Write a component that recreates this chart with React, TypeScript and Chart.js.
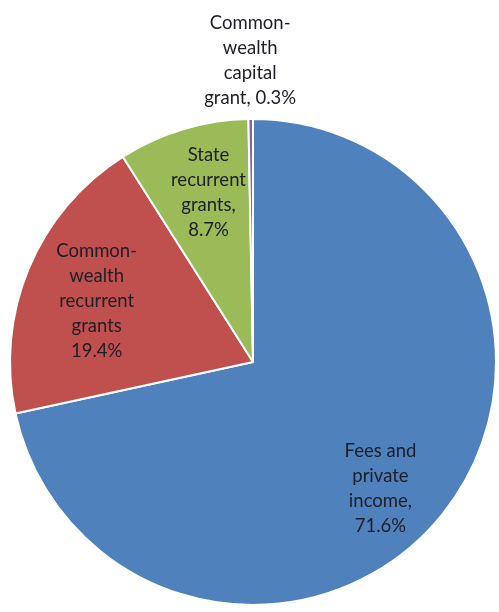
import React, { useEffect, useRef } from "react";
import { Chart, registerables } from "chart.js";

Chart.register(...registerables);

const categories = [
  "Fees and private income",
  "Commonwealth recurrent grants",
  "State recurrent grants",
  "Commonwealth capital grant",
];
const shares = [71.6, 19.4, 8.7, 0.3];
const labelLines = [
  ["Fees and", "private", "income,", "71.6%"],
  ["Common-", "wealth", "recurrent", "grants", "19.4%"],
  ["State", "recurrent", "grants,", "8.7%"],
  ["Common-", "wealth", "capital", "grant, 0.3%"],
];
const colors = ["#4F81BD", "#C0504D", "#9BBB59", "#8064A2"];
const labelRadius = [0.74, 0.69, 0.72, 1.24];
const labelAngleShift = [6, -1.5, 2, 0];

const labelPlugin = {
  id: "sliceLabels",
  afterDatasetsDraw(chart: any) {
    const ctx = chart.ctx;
    const meta = chart.getDatasetMeta(0);
    ctx.save();
    ctx.font = "18.5px Lato";
    ctx.fillStyle = "#1e1e28";
    ctx.textAlign = "center";
    ctx.textBaseline = "middle";
    const lh = 25;
    meta.data.forEach((arc: any, i: number) => {
      const p = arc.getProps(["x", "y", "startAngle", "endAngle", "outerRadius"], true);
      const mid = (p.startAngle + p.endAngle) / 2 + (labelAngleShift[i] * Math.PI) / 180;
      const r = p.outerRadius * labelRadius[i];
      const cx = p.x + Math.cos(mid) * r;
      const cy = p.y + Math.sin(mid) * r;
      const lines = labelLines[i];
      const y0 = cy - ((lines.length - 1) * lh) / 2;
      lines.forEach((t, j) => ctx.fillText(t, cx, y0 + j * lh));
    });
    ctx.restore();
  },
};

export default function App() {
  const ref = useRef<HTMLCanvasElement>(null);
  useEffect(() => {
    if (!ref.current) return;
    const chart = new Chart(ref.current, {
      type: "pie",
      data: {
        labels: categories,
        datasets: [
          {
            data: shares,
            backgroundColor: colors,
            borderColor: "#ffffff",
            borderWidth: 2,
          },
        ],
      },
      options: {
        responsive: false,
        animation: false,
        layout: { padding: { left: 9, right: 2, top: 118, bottom: 6 } },
        plugins: { legend: { display: false }, tooltip: { enabled: false } },
      },
      plugins: [labelPlugin],
    });
    return () => chart.destroy();
  }, []);
  return (
    <div style={{ position: "absolute", left: 0, top: 0, width: 499, height: 612, background: "#fff" }}>
      <canvas ref={ref} width={499} height={612} style={{ width: 499, height: 612 }} />
    </div>
  );
}
